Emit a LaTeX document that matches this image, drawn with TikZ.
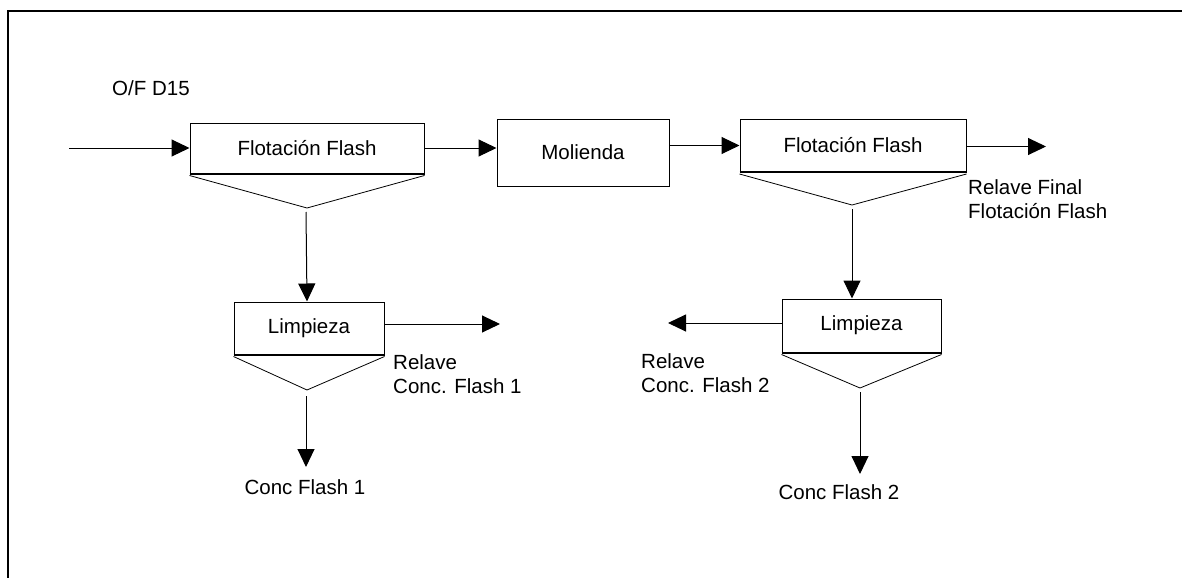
\documentclass[tikz,border=0pt]{standalone}
\usepackage{fontspec}
\setmainfont{Liberation Sans}
\usetikzlibrary{arrows.meta,calc}
\begin{document}
\begin{tikzpicture}[x=1pt,y=-1pt,
  unit/.style={draw,line width=1pt,fill=white,inner sep=0pt,font=\fontsize{20.5}{24}\selectfont},
  hopper/.style={line width=0.8pt,line join=miter},
  flow/.style={line width=1pt,-{Triangle[length=18pt,width=17pt]}},
  lbl/.style={inner sep=0pt,font=\fontsize{20.5}{24}\selectfont,align=left},
  frameline/.style={line width=2pt}]
\useasboundingbox (0,0) rectangle (1182,578);
% outer frame (top and left edges)
\draw[frameline] (1182,11) -- (8,11) -- (8,578);

% process units
\node[unit,minimum width=234pt,minimum height=50pt] (ff1) at (307,148) {Flotación Flash};
\node[unit,minimum width=172pt,minimum height=67pt] (mol) at (583,152.5) {Molienda};
\node[unit,minimum width=226pt,minimum height=52pt] (ff2) at (853,145.5) {Flotación Flash};
\node[unit,minimum width=150pt,minimum height=52pt] (l1) at (309,328) {Limpieza};
\node[unit,minimum width=159pt,minimum height=53pt] (l2) at (861.5,325.5) {Limpieza};

% heavier bottom edge of each cell
\foreach \n in {ff1,ff2,l1,l2}
  \draw[line width=2pt] (\n.south west) -- (\n.south east);

% hoppers under the flotation cells
\coordinate (h1) at (307,208);
\coordinate (h2) at (852,205);
\coordinate (h3) at (307,390);
\coordinate (h4) at (860,388);
\draw[hopper] ($(ff1.south west)+(0,2)$) -- (h1) -- ($(ff1.south east)+(0,2)$);
\draw[hopper] ($(ff2.south west)+(0,2)$) -- (h2) -- ($(ff2.south east)+(0,2)$);
\draw[hopper] ($(l1.south west)+(0,2)$) -- (h3) -- ($(l1.south east)+(0,2)$);
\draw[hopper] ($(l2.south west)+(0,2)$) -- (h4) -- ($(l2.south east)+(0,2)$);

% free ends of the streams
\coordinate (feed) at (69,148);
\coordinate (tail) at (1046,146.5);
\coordinate (r1) at (500,324);
\coordinate (r2) at (668,323);
\coordinate (c1) at (306,467);
\coordinate (c2) at (860,474);

% streams
\draw[flow] (feed) -- (ff1.west);
\draw[flow] (ff1.east) -- (ff1.east -| mol.west);
\draw[flow] (mol.east |- ff2.west) -- (ff2.west);
\draw[flow] (ff2.east |- tail) -- (tail);
\draw[flow] ($(h1)+(-1,4)$) -- (h1 |- l1.north);
\draw[flow] ($(h2)+(0,4)$) -- (h2 |- l2.north);
\draw[flow] (l1.east |- r1) -- (r1);
\draw[flow] (l2.west |- r2) -- (r2);
\draw[flow] ($(h3)+(-1,6)$) -- (c1);
\draw[flow] ($(h4)+(0,4)$) -- (c2);

% stream labels
\node[lbl,anchor=west] (of) at (112,88) {O/F D15};
\node[lbl,anchor=north west] (rf) at (968,179) {Relave Final\\Flotación Flash};
\node[lbl,anchor=north west] (rc1) at (393,354) {Relave\\Conc. Flash 1};
\node[lbl,anchor=north west] (rc2) at (641,353) {Relave\\Conc. Flash 2};
\node[lbl] (cf1) at (305,487) {Conc Flash 1};
\node[lbl] (cf2) at (839,492) {Conc Flash 2};
\end{tikzpicture}
\end{document}
